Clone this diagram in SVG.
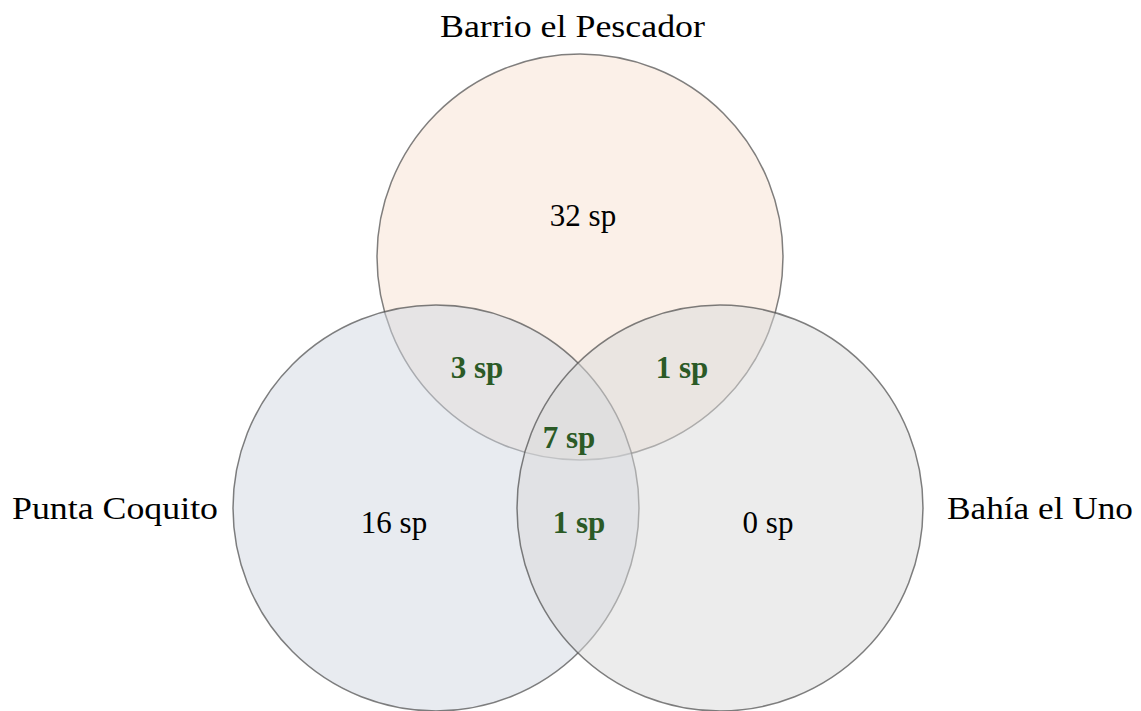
<svg xmlns="http://www.w3.org/2000/svg" width="1141" height="711" viewBox="0 0 1141 711">
<style>
.c{stroke:#4a4a4a;stroke-opacity:0.7;stroke-width:1.5;fill-opacity:0.5}
.lbl{font-family:"Liberation Serif","Times New Roman",serif;font-size:31px;fill:#000}
.n{font-family:"Liberation Serif","Times New Roman",serif;font-size:31px;fill:#000;text-anchor:middle}
.g{font-family:"Liberation Serif","Times New Roman",serif;font-size:31px;font-weight:bold;fill:#2b5a26;text-anchor:middle}
</style>
<rect width="1141" height="711" fill="#fff"/>
<g id="barrio">
<circle class="c" cx="580" cy="257" r="203" fill="#f7e1d1"/>
<text class="lbl" x="440" y="37" textLength="265" lengthAdjust="spacingAndGlyphs">Barrio el Pescador</text>
</g>
<g id="punta">
<circle class="c" cx="436" cy="508" r="203" fill="#d1d7e1"/>
<text class="lbl" x="12" y="519" textLength="206" lengthAdjust="spacingAndGlyphs">Punta Coquito</text>
</g>
<g id="bahia">
<circle class="c" cx="720" cy="508" r="203" fill="#d9d9d9"/>
<text class="lbl" x="947" y="519" textLength="186" lengthAdjust="spacingAndGlyphs">Bahía el Uno</text>
</g>
<g id="counts">
<text class="n" x="583" y="226">32 sp</text>
<text class="n" x="394" y="533">16 sp</text>
<text class="n" x="768" y="533">0 sp</text>
<text class="g" x="477" y="378">3 sp</text>
<text class="g" x="682" y="378">1 sp</text>
<text class="g" x="569" y="448">7 sp</text>
<text class="g" x="579" y="533">1 sp</text>
</g>
<g id="connectors"></g>
</svg>
